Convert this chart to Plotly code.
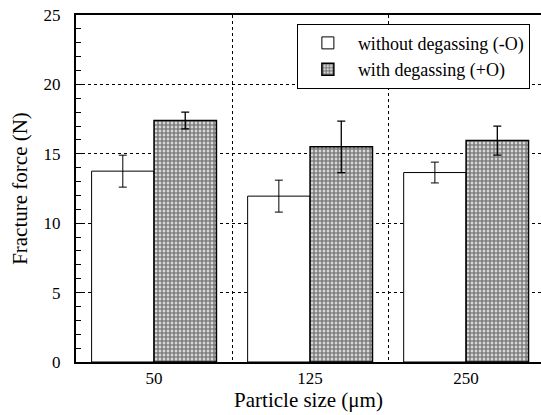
import plotly.graph_objects as go

categories = ["50", "125", "250"]
without_degassing = [13.75, 11.95, 13.65]
without_err = [1.15, 1.15, 0.75]
with_degassing = [17.4, 15.5, 15.95]
with_err = [0.6, 1.85, 1.05]

x = list(range(len(categories)))
FONT = "Liberation Serif, Times New Roman, serif"

fig = go.Figure()
fig.add_trace(go.Bar(
    x=x, y=without_degassing, name="without degassing (-O)",
    marker=dict(color="white", line=dict(color="black", width=1)),
    error_y=dict(type="data", array=without_err, color="black", thickness=1, width=4),
))
fig.add_trace(go.Bar(
    x=x, y=with_degassing, name="with degassing (+O)",
    marker=dict(color="white", line=dict(color="black", width=1.5),
                pattern=dict(shape=".", fgcolor="black", bgcolor="white", size=4, solidity=0.75)),
    error_y=dict(type="data", array=with_err, color="black", thickness=1.3, width=4),
))

fig.update_layout(
    width=541, height=415,
    margin=dict(l=76, r=0, t=15, b=53),
    paper_bgcolor="white", plot_bgcolor="white",
    barmode="group", bargap=0.2, bargroupgap=0,
    font=dict(family=FONT, color="black", size=16),
    showlegend=True,
    legend=dict(x=0.475, y=0.975, xanchor="left", yanchor="top",
                bordercolor="black", borderwidth=1, bgcolor="white",
                font=dict(family=FONT, size=18, color="black"), tracegroupgap=0,
                itemwidth=50),
)
fig.update_xaxes(
    range=[-0.5, 2.48], tickvals=x, ticktext=categories,
    showgrid=False, zeroline=False,
    showline=True, linecolor="black", linewidth=2, mirror=True,
    ticks="", tickfont=dict(size=17, color="black"),
    minor=dict(tickvals=[0.5, 1.5], showgrid=True, gridcolor="black",
               griddash="dot", gridwidth=1, ticks=""),
    title=dict(text="Particle size (μm)", font=dict(size=21, color="black"), standoff=4),
)
fig.update_yaxes(
    range=[0, 25], tickvals=[0, 5, 10, 15, 20, 25],
    showgrid=True, gridcolor="black", griddash="dot", gridwidth=1,
    zeroline=False,
    showline=True, linecolor="black", linewidth=2,
    ticks="inside", ticklen=6, tickcolor="black", tickwidth=1,
    ticklabelstandoff=10, tickfont=dict(size=17, color="black"),
    minor=dict(dtick=1, ticks="inside", ticklen=5, tickcolor="black", tickwidth=1, showgrid=False),
    title=dict(text="Fracture force (N)", font=dict(size=21, color="black"), standoff=10),
)

fig.write_html("out.html", config={"displayModeBar": False},
               post_script="document.body.style.margin='0';document.body.style.padding='0';")
